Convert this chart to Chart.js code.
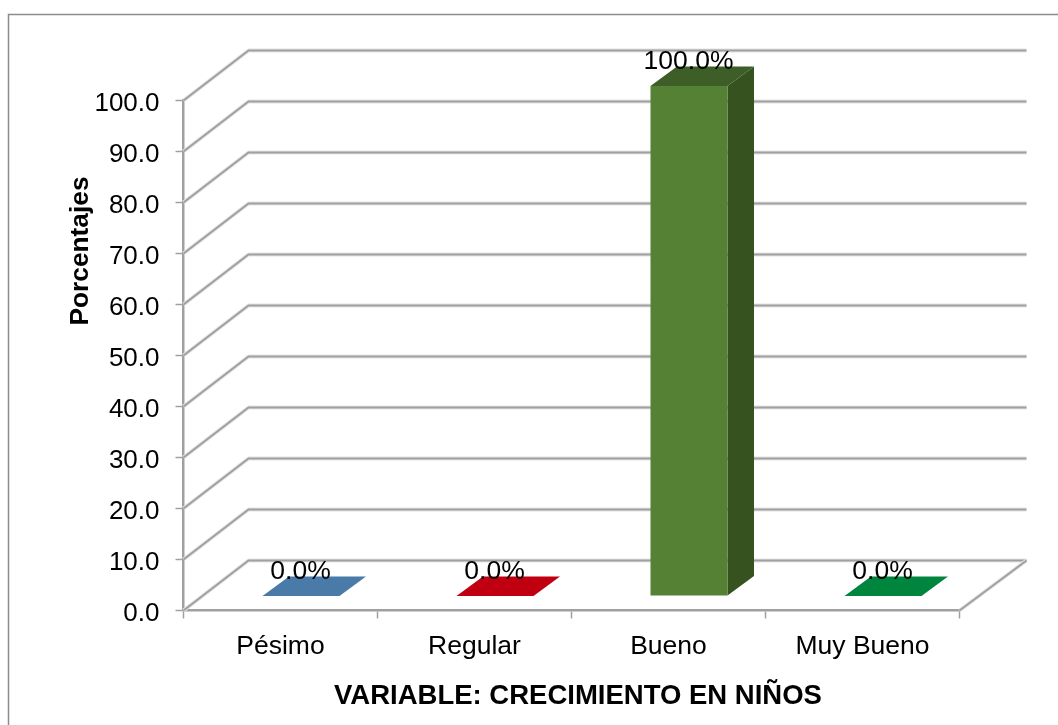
<!DOCTYPE html>
<html lang="es">
<head>
<meta charset="utf-8">
<title>Crecimiento en niños</title>
<script src="https://cdn.jsdelivr.net/npm/chart.js@4/dist/chart.umd.min.js"></script>
<style>
    html, body { margin: 0; padding: 0; background: #fff; }
    canvas { display: block; }
</style>
</head>
<body>
<canvas id="crecimientoChart" width="1058" height="725"></canvas>
<script>
const categories = ['Pésimo', 'Regular', 'Bueno', 'Muy Bueno'];
const percentages = [0, 0, 100, 0];
const yTicks = [0, 10, 20, 30, 40, 50, 60, 70, 80, 90, 100];
const xTitle = 'VARIABLE: CRECIMIENTO EN NIÑOS';
const yTitle = 'Porcentajes';

const frontColors = ['#4a7aa8', '#c00010', '#558135', '#00853f'];
const topColors = ['#4a7aa8', '#c00010', '#3e5e28', '#00853f'];
const sideColors = ['#38587c', '#8e000c', '#36521f', '#006230'];

const FONT = '"Liberation Sans", Arial, sans-serif';
const LINE = '#a0a0a0';
const LINE_SOFT = '#e4e4e4';

// profundidad de las paredes y de las barras
const WALL = { dx: 65, dy: -50 };
const BAR_SHIFT = { dx: 20.5, dy: -14.5 };
const BAR_DEPTH = { dx: 26.5, dy: -19.5 };

const path = (ctx, points) => {
    ctx.beginPath();
    points.forEach(([x, y], i) => (i ? ctx.lineTo(x, y) : ctx.moveTo(x, y)));
};

// línea gris con su sombra clara debajo
const stroke = (ctx, points) => {
    path(ctx, points);
    ctx.lineWidth = 4;
    ctx.strokeStyle = LINE_SOFT;
    ctx.stroke();
    path(ctx, points);
    ctx.lineWidth = 2;
    ctx.strokeStyle = LINE;
    ctx.stroke();
};

const fillPoly = (ctx, points, color) => {
    path(ctx, points);
    ctx.closePath();
    ctx.fillStyle = color;
    ctx.fill();
};

// Marco exterior del gráfico
const framePlugin = {
    id: 'frame',
    beforeDraw(chart) {
        const ctx = chart.ctx;
        ctx.save();
        ctx.fillStyle = '#fff';
        ctx.fillRect(0, 0, chart.width, chart.height);
        ctx.strokeStyle = '#8c8c8c';
        ctx.lineWidth = 1.5;
        ctx.strokeRect(8.5, 14.5, 1060, 730);
        ctx.restore();
    }
};

// Paredes y piso en perspectiva
const wallsPlugin = {
    id: 'walls',
    beforeDatasetsDraw(chart) {
        const ctx = chart.ctx;
        const { x, y } = chart.scales;
        const left = x.left;
        const right = x.right;
        ctx.save();
        ctx.lineJoin = 'round';
        yTicks.forEach(t => {
            const py = y.getPixelForValue(t);
            stroke(ctx, [[left, py], [left + WALL.dx, py + WALL.dy], [right + WALL.dx + 2, py + WALL.dy]]);
        });
        const base = y.getPixelForValue(0);
        stroke(ctx, [[right, base], [right + WALL.dx + 2, base + WALL.dy]]);
        ctx.restore();
    }
};

// Caras superior y lateral de las barras, y la etiqueta de porcentaje
const bars3dPlugin = {
    id: 'bars3d',
    beforeDatasetDraw(chart) {
        const ctx = chart.ctx;
        const meta = chart.getDatasetMeta(0);
        ctx.save();
        meta.data.forEach((bar, i) => {
            const { x, y, base, width } = bar.getProps(['x', 'y', 'base', 'width'], true);
            const l = x - width / 2 + BAR_SHIFT.dx;
            const r = x + width / 2 + BAR_SHIFT.dx;
            const t = y + BAR_SHIFT.dy;
            const b = base + BAR_SHIFT.dy;
            if (b - t > 0) {
                fillPoly(ctx, [[r, t], [r + BAR_DEPTH.dx, t + BAR_DEPTH.dy], [r + BAR_DEPTH.dx, b + BAR_DEPTH.dy], [r, b]], sideColors[i]);
            }
            fillPoly(ctx, [[l, t], [l + BAR_DEPTH.dx, t + BAR_DEPTH.dy], [r + BAR_DEPTH.dx, t + BAR_DEPTH.dy], [r, t]], topColors[i]);
        });
        ctx.restore();
        // la cara frontal la dibuja Chart.js desplazada hacia el fondo
        ctx.save();
        ctx.translate(BAR_SHIFT.dx, BAR_SHIFT.dy);
    },
    afterDatasetDraw(chart) {
        const ctx = chart.ctx;
        ctx.restore();
        const meta = chart.getDatasetMeta(0);
        ctx.save();
        ctx.font = '26.5px ' + FONT;
        ctx.fillStyle = '#000';
        ctx.textAlign = 'center';
        ctx.textBaseline = 'alphabetic';
        meta.data.forEach((bar, i) => {
            ctx.fillText(percentages[i].toFixed(1) + '%', bar.x + BAR_SHIFT.dx - 0.5, bar.y + BAR_SHIFT.dy - 17);
        });
        ctx.restore();
    }
};

// Títulos de los ejes, fuera del centro de cada escala
const axisTitlesPlugin = {
    id: 'axisTitles',
    afterDraw(chart) {
        const ctx = chart.ctx;
        ctx.save();
        ctx.fillStyle = '#000';
        ctx.textAlign = 'center';
        ctx.textBaseline = 'alphabetic';
        ctx.font = 'bold 27.5px ' + FONT;
        ctx.fillText(xTitle, 578, 704);
        ctx.translate(88, 251);
        ctx.rotate(-Math.PI / 2);
        ctx.font = 'bold 26.3px ' + FONT;
        ctx.fillText(yTitle, 0, 0);
        ctx.restore();
    }
};

const ctx = document.getElementById('crecimientoChart').getContext('2d');
new Chart(ctx, {
    type: 'bar',
    data: {
        labels: categories,
        datasets: [{
            data: percentages,
            backgroundColor: frontColors,
            borderWidth: 0,
            barPercentage: 77 / 194,
            categoryPercentage: 1
        }]
    },
    options: {
        responsive: false,
        animation: false,
        layout: { padding: { left: 0, top: 100.5, right: 98.5, bottom: 0 } },
        plugins: {
            legend: { display: false },
            tooltip: { enabled: false }
        },
        scales: {
            x: {
                afterFit(scale) { scale.height = 114.5; },
                border: { color: LINE, width: 2.5 },
                grid: { drawOnChartArea: false, tickLength: 8, color: LINE, tickWidth: 1.5 },
                ticks: { color: '#000', font: { family: FONT, size: 26.5 }, padding: 12, maxRotation: 0 }
            },
            y: {
                min: 0,
                max: 100,
                afterFit(scale) { scale.width = 183.5; },
                afterBuildTicks(scale) { scale.ticks = yTicks.map(value => ({ value })); },
                border: { color: LINE, width: 2.5 },
                grid: { drawOnChartArea: false, tickLength: 8, color: LINE, tickWidth: 1.5 },
                ticks: {
                    color: '#000',
                    font: { family: FONT, size: 26 },
                    padding: 16,
                    labelOffset: 3,
                    callback: value => value.toFixed(1)
                }
            }
        }
    },
    plugins: [framePlugin, wallsPlugin, bars3dPlugin, axisTitlesPlugin]
});
</script>
</body>
</html>
